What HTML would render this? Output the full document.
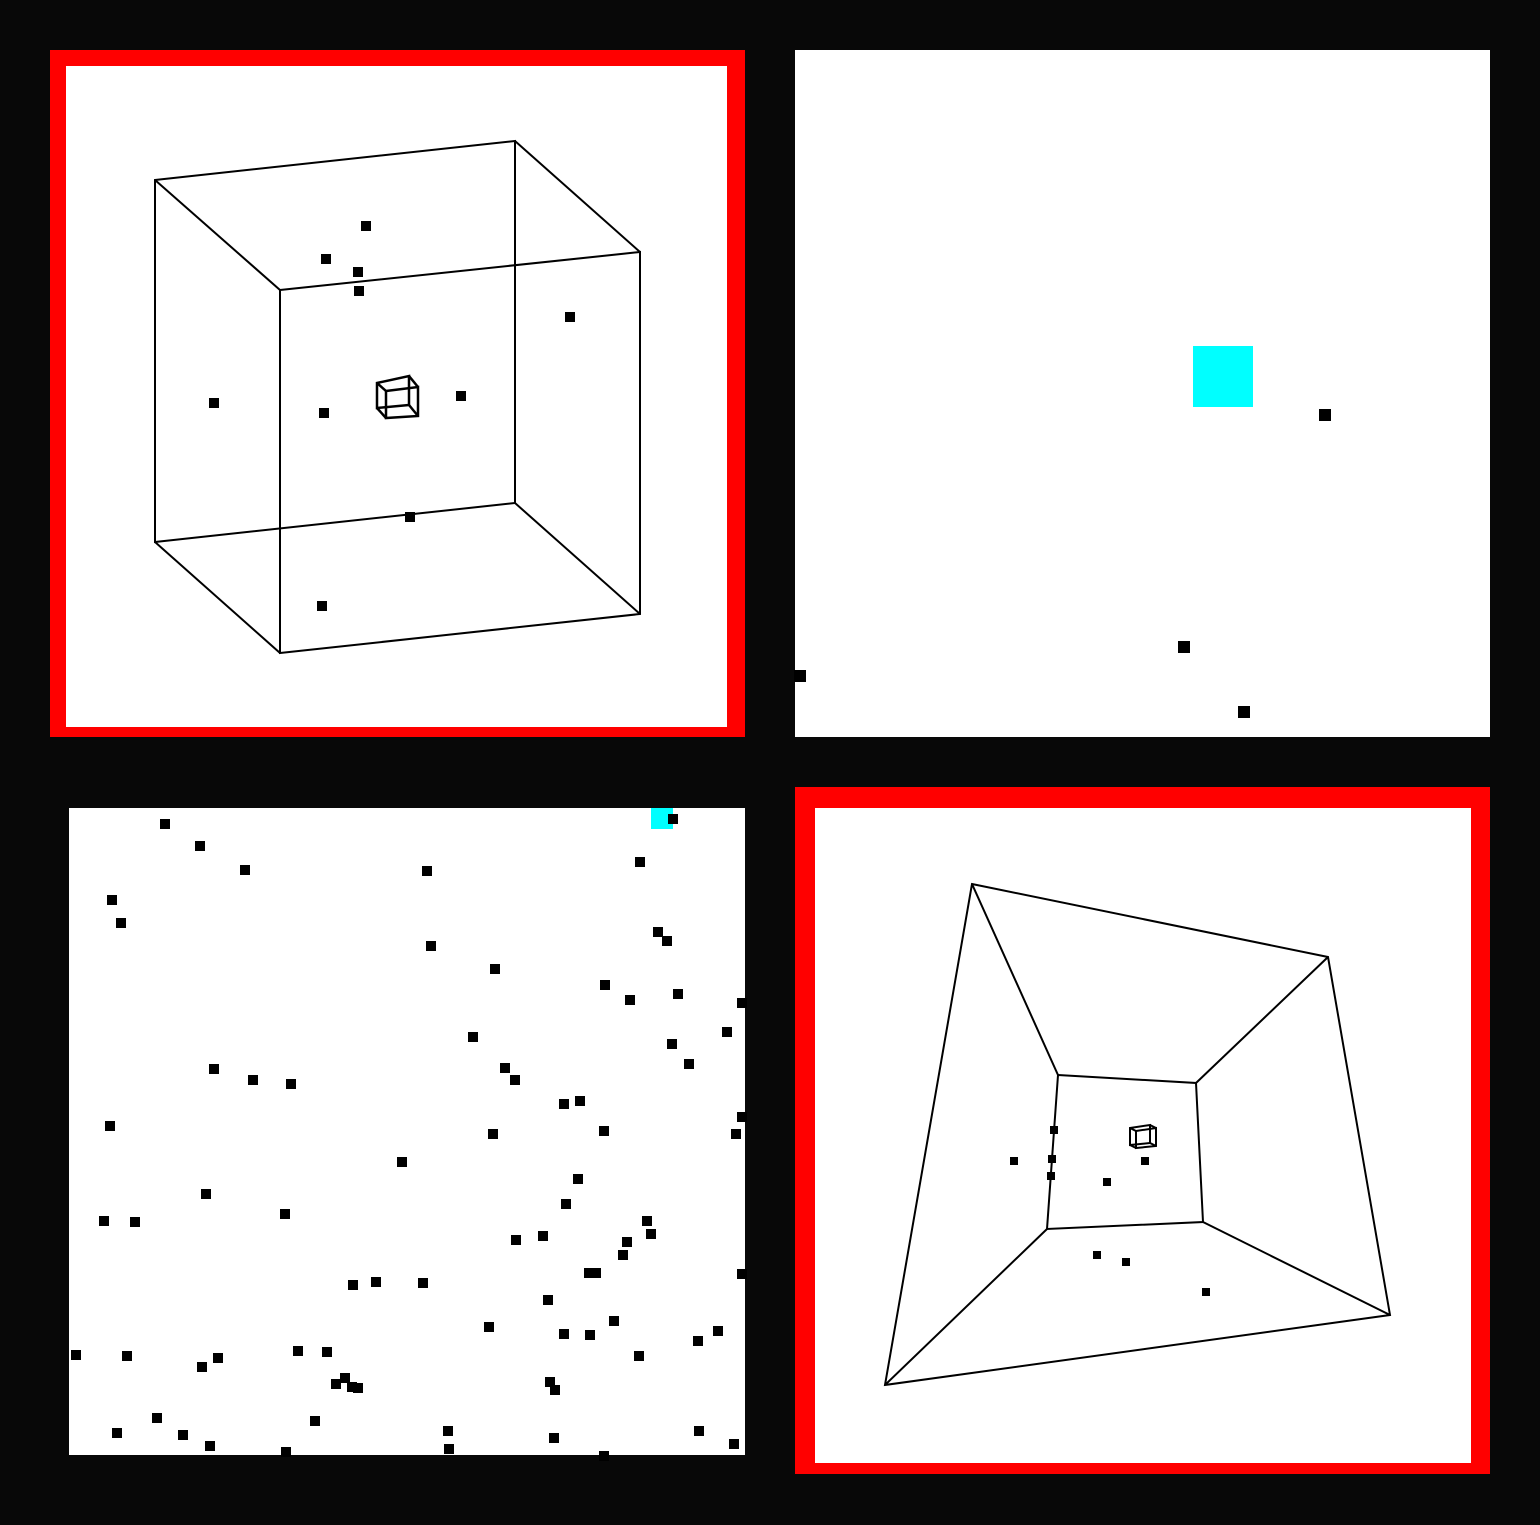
<!DOCTYPE html>
<html><head><meta charset="utf-8"><style>
html,body{margin:0;padding:0;background:#080808;width:1540px;height:1525px;overflow:hidden}
svg{display:block}
</style></head><body>
<svg id="c" width="1540" height="1525" xmlns="http://www.w3.org/2000/svg">
<rect x="0" y="0" width="1540" height="1525" fill="#080808"/>
<rect x="50" y="50" width="695" height="687" fill="#ff0000"/>
<rect x="66" y="66" width="661" height="661" fill="#fff"/>
<rect x="795" y="50" width="695" height="687" fill="#fff"/>
<rect x="69" y="808" width="676" height="647" fill="#fff"/>
<rect x="795" y="787" width="695" height="687" fill="#ff0000"/>
<rect x="815" y="808" width="656" height="655" fill="#fff"/>
<rect x="1193" y="346" width="60" height="61" fill="#00ffff"/>
<rect x="651" y="808" width="22" height="21" fill="#00ffff"/>
<g id="lines" stroke="#000" stroke-width="2" fill="none"></g>
<g id="dots" fill="#000"></g>
</svg>
<script>
// Top-left cube wireframe
const tlBack = [[155,180],[515,141],[515,503],[155,542]];
const tlFront = [[280,290],[640,252],[640,614],[280,653]];
const tlSmallBack = [[377,383],[409,376],[409,405],[377,408]];
const tlSmallFront = [[386,391],[418,387],[418,416],[386,418]];
// Bottom-right perspective
const brOuter = [[972,884],[1328,957],[1390,1315],[885,1385]];
const brInner = [[1058,1075],[1196,1083],[1203,1222],[1047,1229]];
const brSmallBack = [[1130,1128],[1150,1125],[1150,1143],[1130,1145]];
const brSmallFront = [[1136,1131],[1156,1128],[1156,1146],[1136,1148]];
// Dots per panel
const tlDotsX = [366,326,358,359,570,214,324,461,410,322];
const tlDotsY = [226,259,272,291,317,403,413,396,517,606];
const trDotsX = [1325,1184,1244,800];
const trDotsY = [415,647,712,676];
const brDotsX = [1014,1054,1052,1051,1107,1145,1097,1126,1206];
const brDotsY = [1161,1130,1159,1176,1182,1161,1255,1262,1292];
const blDotsX = [165,200,245,427,640,673,112,121,431,658,667,495,605,630,678,742,473,727,672,689,214,253,291,505,515,564,580,742,110,493,604,736,402,578,206,566,285,104,135,647,651,627,623,516,543,589,596,742,353,376,423,548,614,489,564,590,718,698,76,127,218,202,298,327,639,336,345,352,358,550,555,157,315,117,183,448,699,210,449,554,734,286,604];
const blDotsY = [824,846,870,871,862,819,900,923,946,932,941,969,985,1000,994,1003,1037,1032,1044,1064,1069,1080,1084,1068,1080,1104,1101,1117,1126,1134,1131,1134,1162,1179,1194,1204,1214,1221,1222,1221,1234,1242,1255,1240,1236,1273,1273,1274,1285,1282,1283,1300,1321,1327,1334,1335,1331,1341,1355,1356,1358,1367,1351,1352,1356,1384,1378,1387,1388,1382,1390,1418,1421,1433,1435,1431,1431,1446,1449,1438,1444,1452,1456];

const NS='http://www.w3.org/2000/svg';
const lines=document.getElementById('lines');
const dots=document.getElementById('dots');
function poly(a,b,name,w){
  const all=[a,b];
  all.forEach((q,k)=>{
    const p=document.createElementNS(NS,'polygon');
    p.setAttribute('points',q.map(v=>v.join(',')).join(' '));
    p.setAttribute('stroke-width',w);
    
    
    lines.appendChild(p);
  });
  for(let i=0;i<4;i++){
    const l=document.createElementNS(NS,'line');
    l.setAttribute('x1',a[i][0]);l.setAttribute('y1',a[i][1]);
    l.setAttribute('x2',b[i][0]);l.setAttribute('y2',b[i][1]);
    l.setAttribute('stroke-width',w);
    
    
    lines.appendChild(l);
  }
}
poly(tlBack,tlFront,'tl-cube',2);
poly(tlSmallBack,tlSmallFront,'tl-small-cube',2.5);
poly(brOuter,brInner,'br-frustum',2);
poly(brSmallBack,brSmallFront,'br-small-cube',2);
function addDots(xs,ys,name,s){
  for(let i=0;i<xs.length;i++){
    const r=document.createElementNS(NS,'rect');
    r.setAttribute('x',xs[i]-s/2);r.setAttribute('y',ys[i]-s/2);
    r.setAttribute('width',s);r.setAttribute('height',s);
    
    
    dots.appendChild(r);
  }
}
addDots(tlDotsX,tlDotsY,'tl-point',10);
addDots(trDotsX,trDotsY,'tr-point',12);
addDots(brDotsX,brDotsY,'br-point',8);
addDots(blDotsX,blDotsY,'bl-point',10);
</script>
</body></html>
